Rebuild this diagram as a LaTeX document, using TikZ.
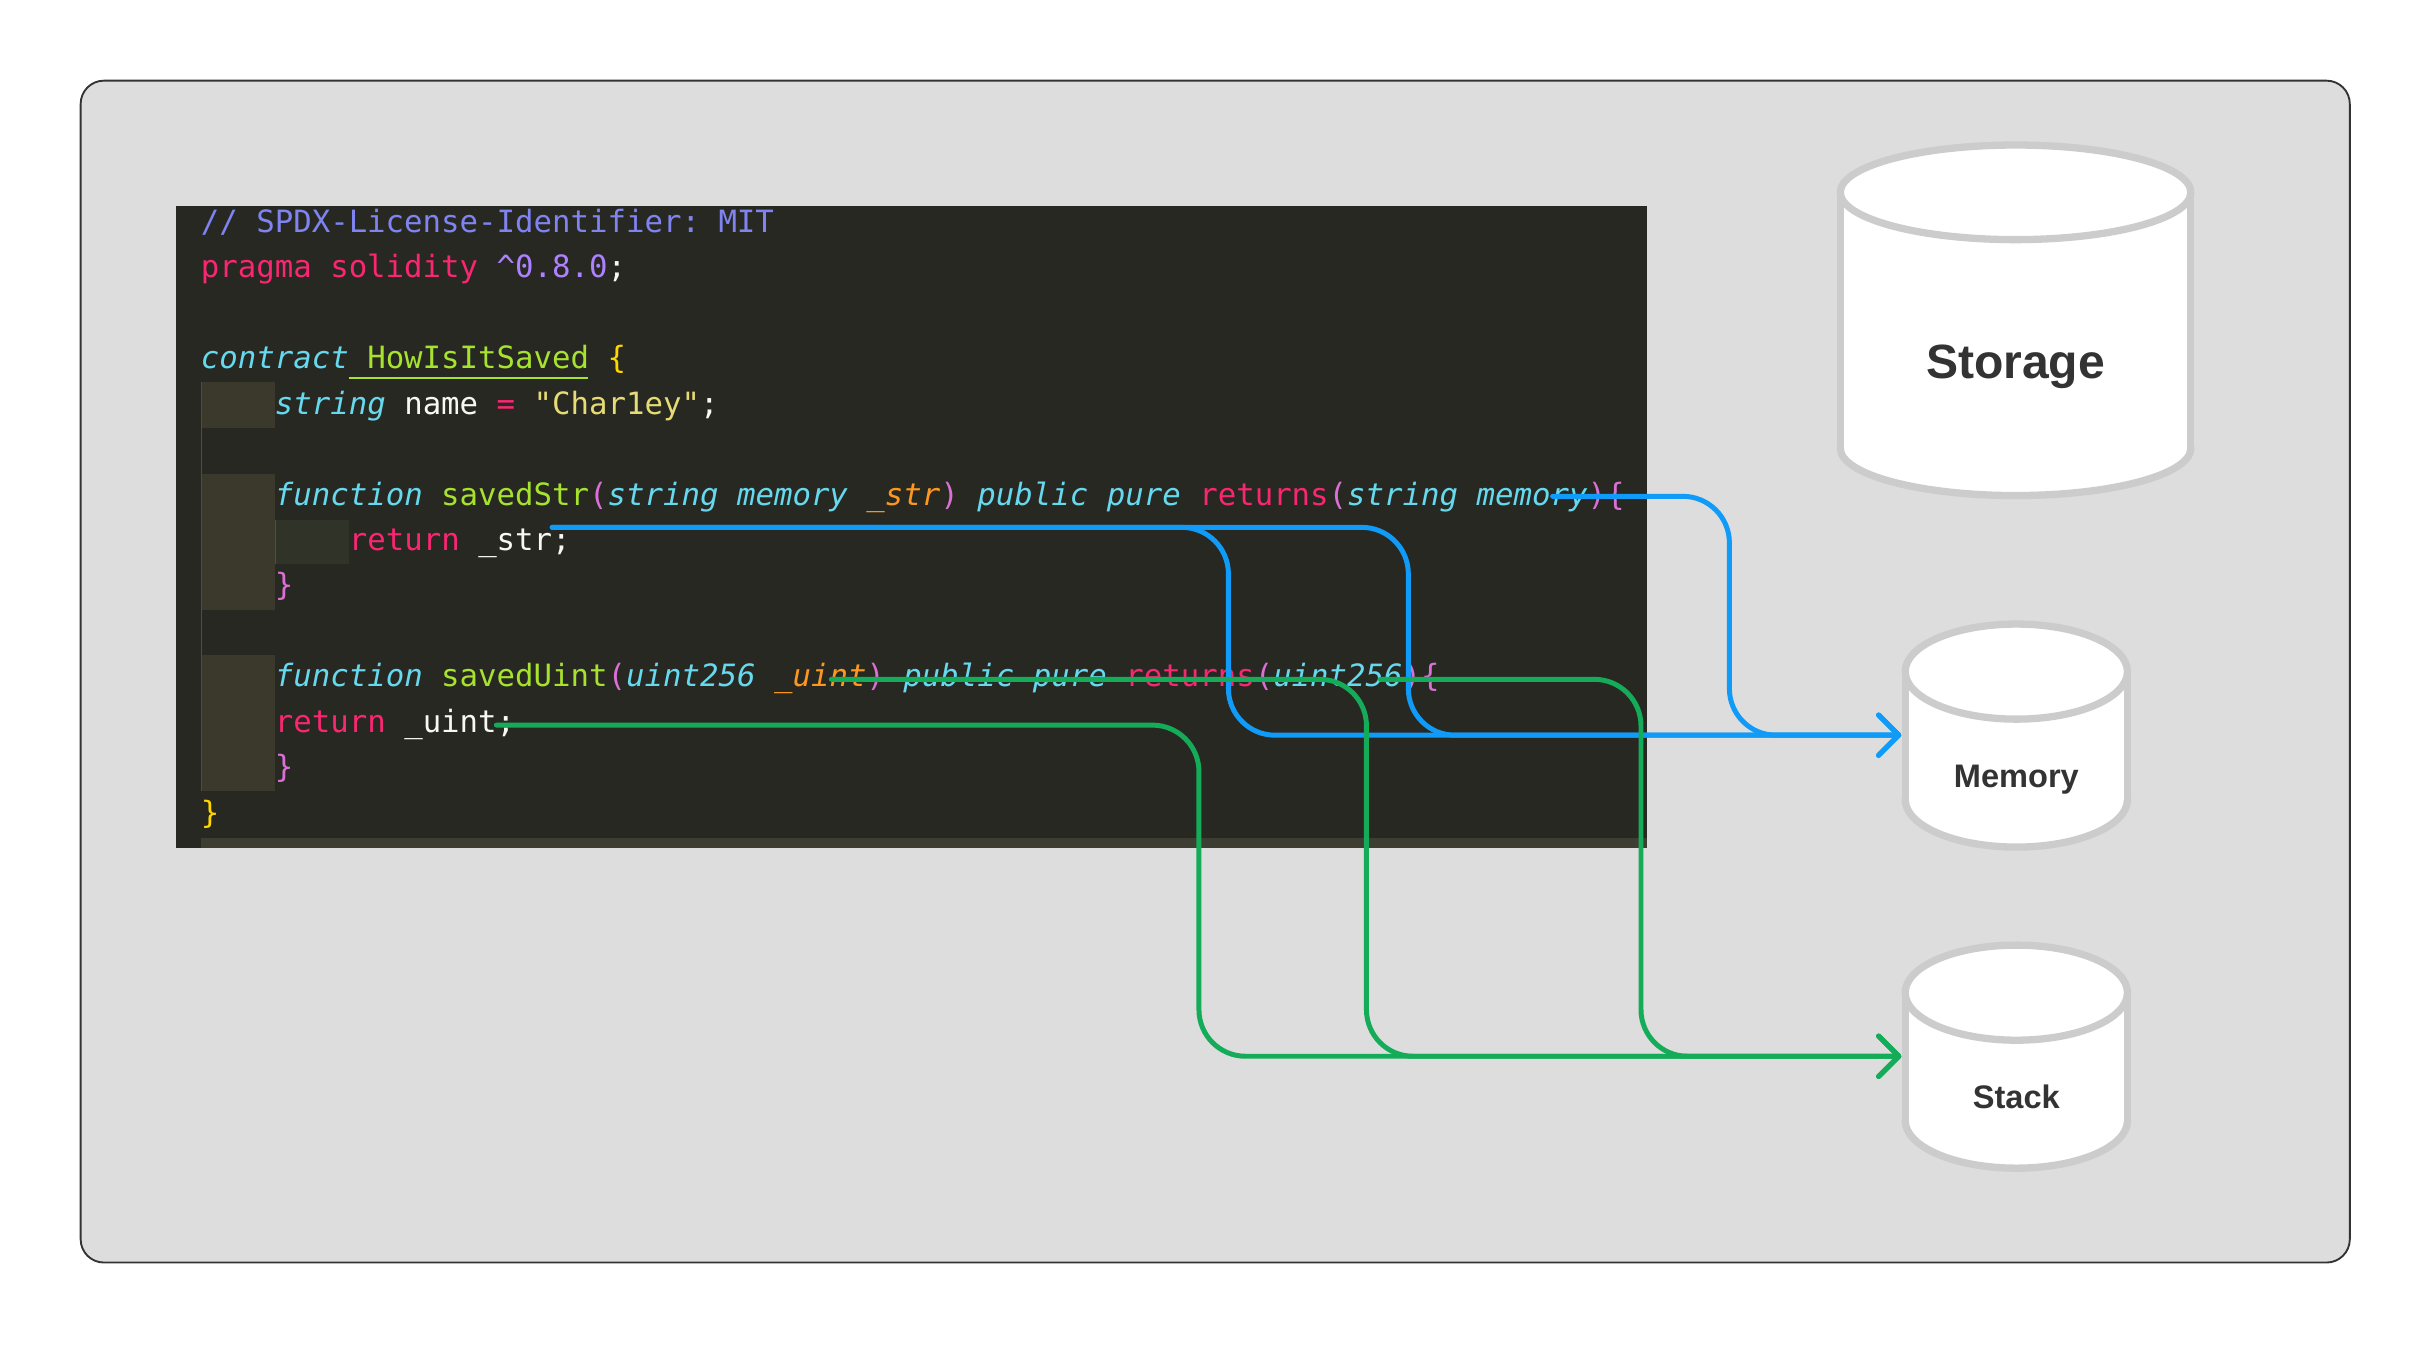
\documentclass[tikz,border=0pt]{standalone}
\usepackage{fontspec}
\setmainfont{Liberation Sans}
\newfontfamily\codefont{DejaVu Sans Mono}[ItalicFont={DejaVu Sans Mono Oblique}]
\usetikzlibrary{arrows.meta}
\definecolor{framebg}{HTML}{DDDDDD}
\definecolor{framedraw}{HTML}{333333}
\definecolor{panelbg}{HTML}{272822}
\definecolor{indentbg}{HTML}{3A392B}
\definecolor{innerbg}{HTML}{2F3328}
\definecolor{guide}{HTML}{4E4D40}
\definecolor{scrollbg}{HTML}{3E3D32}
\definecolor{codewhite}{HTML}{F8F8F2}
\definecolor{comment}{HTML}{7F84F0}
\definecolor{kwred}{HTML}{F92672}
\definecolor{kwcyan}{HTML}{66D9EF}
\definecolor{fngreen}{HTML}{A6E22E}
\definecolor{numpurple}{HTML}{AE81FF}
\definecolor{stryellow}{HTML}{E6DB74}
\definecolor{argorange}{HTML}{FD971F}
\definecolor{brgold}{HTML}{FFD700}
\definecolor{brorchid}{HTML}{DA70D6}
\definecolor{wireblue}{HTML}{119BF8}
\definecolor{wiregreen}{HTML}{14AC58}
\definecolor{cylgray}{HTML}{CCCCCC}
\definecolor{labeldark}{HTML}{333333}
\begin{document}
\begin{tikzpicture}[x=1pt, y=-1pt,
    codeline/.style={anchor=base west, inner sep=0pt, text=codewhite,
      font=\codefont\fontsize{19.8}{29.3}\selectfont\frenchspacing},
    cylline/.style={draw=cylgray, line width=4.7pt},
    dbbox/.style={minimum width=148pt, minimum height=148pt, inner sep=0pt},
    dblabel/.style={anchor=base, inner sep=0pt, text=labeldark,
      font=\fontsize{21}{25}\selectfont\bfseries},
    bluewire/.style={draw=wireblue, line width=3.2pt, line cap=round,
      rounded corners=30pt, -{Straight Barb[length=13pt,width=26pt,round]}},
    greenwire/.style={bluewire, draw=wiregreen}]
    \useasboundingbox (0,0) rectangle (1568,867);
    % Frame
    \draw[framedraw, fill=framebg, line width=1.2pt, rounded corners=15pt] (52,52) rectangle (1515,814);
    % Editor panel
    \fill[panelbg] (113.5,133) rectangle (1062,547);
    \fill[indentbg] (129.3,246.5) rectangle (177,275.8);
    \fill[indentbg] (129.3,305.3) rectangle (177,393.2);
    \fill[innerbg] (177,335.3) rectangle (224.7,363.6);
    \fill[indentbg] (129.3,422.3) rectangle (177,510.2);
    \draw[guide, line width=0.8pt] (129.7,246.5) -- (129.7,510.2);
    \draw[guide, line width=0.8pt] (177.4,335.3) -- (177.4,363.6);
    \fill[scrollbg] (129.3,540.5) rectangle (1062,547);
    % Code lines
    \node[codeline] (spdx) at (129.3,149.8) {\textcolor{comment}{// SPDX-License-Identifier: MIT}};
    \node[codeline] (pragma) at (129.3,179.1) {\textcolor{kwred}{pragma solidity} \textcolor{numpurple}{\textasciicircum0.8.0};};
    \node[codeline] (contract) at (129.3,237.7) {\textcolor{kwcyan}{\itshape contract} \textcolor{fngreen}{HowIsItSaved} \textcolor{brgold}{\{}};
    \draw[fngreen, line width=1.3pt] (224.7,243.8) -- (379.3,243.8);
    \node[codeline] (namedecl) at (177,267.0) {\textcolor{kwcyan}{\itshape string} name \textcolor{kwred}{=} \textcolor{stryellow}{"Char1ey"};};
    \node[codeline] (savedstr) at (177,325.6) {\textcolor{kwcyan}{\itshape function} \textcolor{fngreen}{savedStr}\textcolor{brorchid}{(}\textcolor{kwcyan}{\itshape string memory \textcolor{argorange}{\_str}}\textcolor{brorchid}{)} \textcolor{kwcyan}{\itshape public pure} \textcolor{kwred}{returns}\textcolor{brorchid}{(}\textcolor{kwcyan}{\itshape string memory}\textcolor{brorchid}{)\{}};
    \node[codeline] (retstr) at (224.7,354.9) {\textcolor{kwred}{return} \_str;};
    \node[codeline] (closestr) at (177,384.2) {\textcolor{brorchid}{\}}};
    \node[codeline] (saveduint) at (177,442.8) {\textcolor{kwcyan}{\itshape function} \textcolor{fngreen}{savedUint}\textcolor{brorchid}{(}\textcolor{kwcyan}{\itshape uint256 \textcolor{argorange}{\_uint}}\textcolor{brorchid}{)} \textcolor{kwcyan}{\itshape public pure} \textcolor{kwred}{returns}\textcolor{brorchid}{(}\textcolor{kwcyan}{\itshape uint256}\textcolor{brorchid}{)\{}};
    \node[codeline] (retuint) at (177,472.1) {\textcolor{kwred}{return} \_uint;};
    \node[codeline] (closeuint) at (177,501.4) {\textcolor{brorchid}{\}}};
    \node[codeline] (closecontract) at (129.3,530.7) {\textcolor{brgold}{\}}};
    % Storage cylinder
    \node[dbbox, minimum width=231pt, minimum height=231pt] (storage) at (1299.5,206.5) {};
    \draw[cylline, fill=white] (1299.5,289) ellipse [x radius=113pt, y radius=30.5pt];
    \fill[white] (1186.5,124) rectangle (1412.5,289);
    \draw[cylline] (1186.5,124) -- (1186.5,289) (1412.5,124) -- (1412.5,289);
    \draw[cylline, fill=white] (1299.5,124) ellipse [x radius=113pt, y radius=30.5pt];
    \node[dblabel, font=\fontsize{31}{36}\selectfont\bfseries] (storagelbl) at (1299.5,244) {Storage};
    % Memory cylinder
    \node[dbbox] (memory) at (1300,474) {};
    \draw[cylline, fill=white] (1300,515.5) ellipse [x radius=71.65pt, y radius=30.65pt];
    \fill[white] (1228.35,433) rectangle (1371.65,515.5);
    \draw[cylline] (1228.35,433) -- (1228.35,515.5) (1371.65,433) -- (1371.65,515.5);
    \draw[cylline, fill=white] (1300,433) ellipse [x radius=71.65pt, y radius=30.65pt];
    \node[dblabel] (memorylbl) at (1300,508) {Memory};
    % Stack cylinder
    \node[dbbox] (stack) at (1300,681) {};
    \draw[cylline, fill=white] (1300,722.5) ellipse [x radius=71.65pt, y radius=30.65pt];
    \fill[white] (1228.35,640) rectangle (1371.65,722.5);
    \draw[cylline] (1228.35,640) -- (1228.35,722.5) (1371.65,640) -- (1371.65,722.5);
    \draw[cylline, fill=white] (1300,640) ellipse [x radius=71.65pt, y radius=30.65pt];
    \node[dblabel] (stacklbl) at (1300,715) {Stack};
    % Wire start points
    \coordinate (strtype) at (1001,320);
    \coordinate (strret) at (356,340);
    \coordinate (uintarg) at (536,438);
    \coordinate (uinttype) at (890,438);
    \coordinate (uintret) at (320,467.5);
    % Memory wires
    \draw[bluewire] (strtype) -- (1115,320) |- (memory.west);
    \draw[bluewire] (strret) -- (792,340) |- (memory.west);
    \draw[bluewire] (strret) -- (908,340) |- (memory.west);
    % Stack wires
    \draw[greenwire] (uintret) -- (773,467.5) |- (stack.west);
    \draw[greenwire] (uintarg) -- (881,438) |- (stack.west);
    \draw[greenwire] (uinttype) -- (1058,438) |- (stack.west);
\end{tikzpicture}
\end{document}
